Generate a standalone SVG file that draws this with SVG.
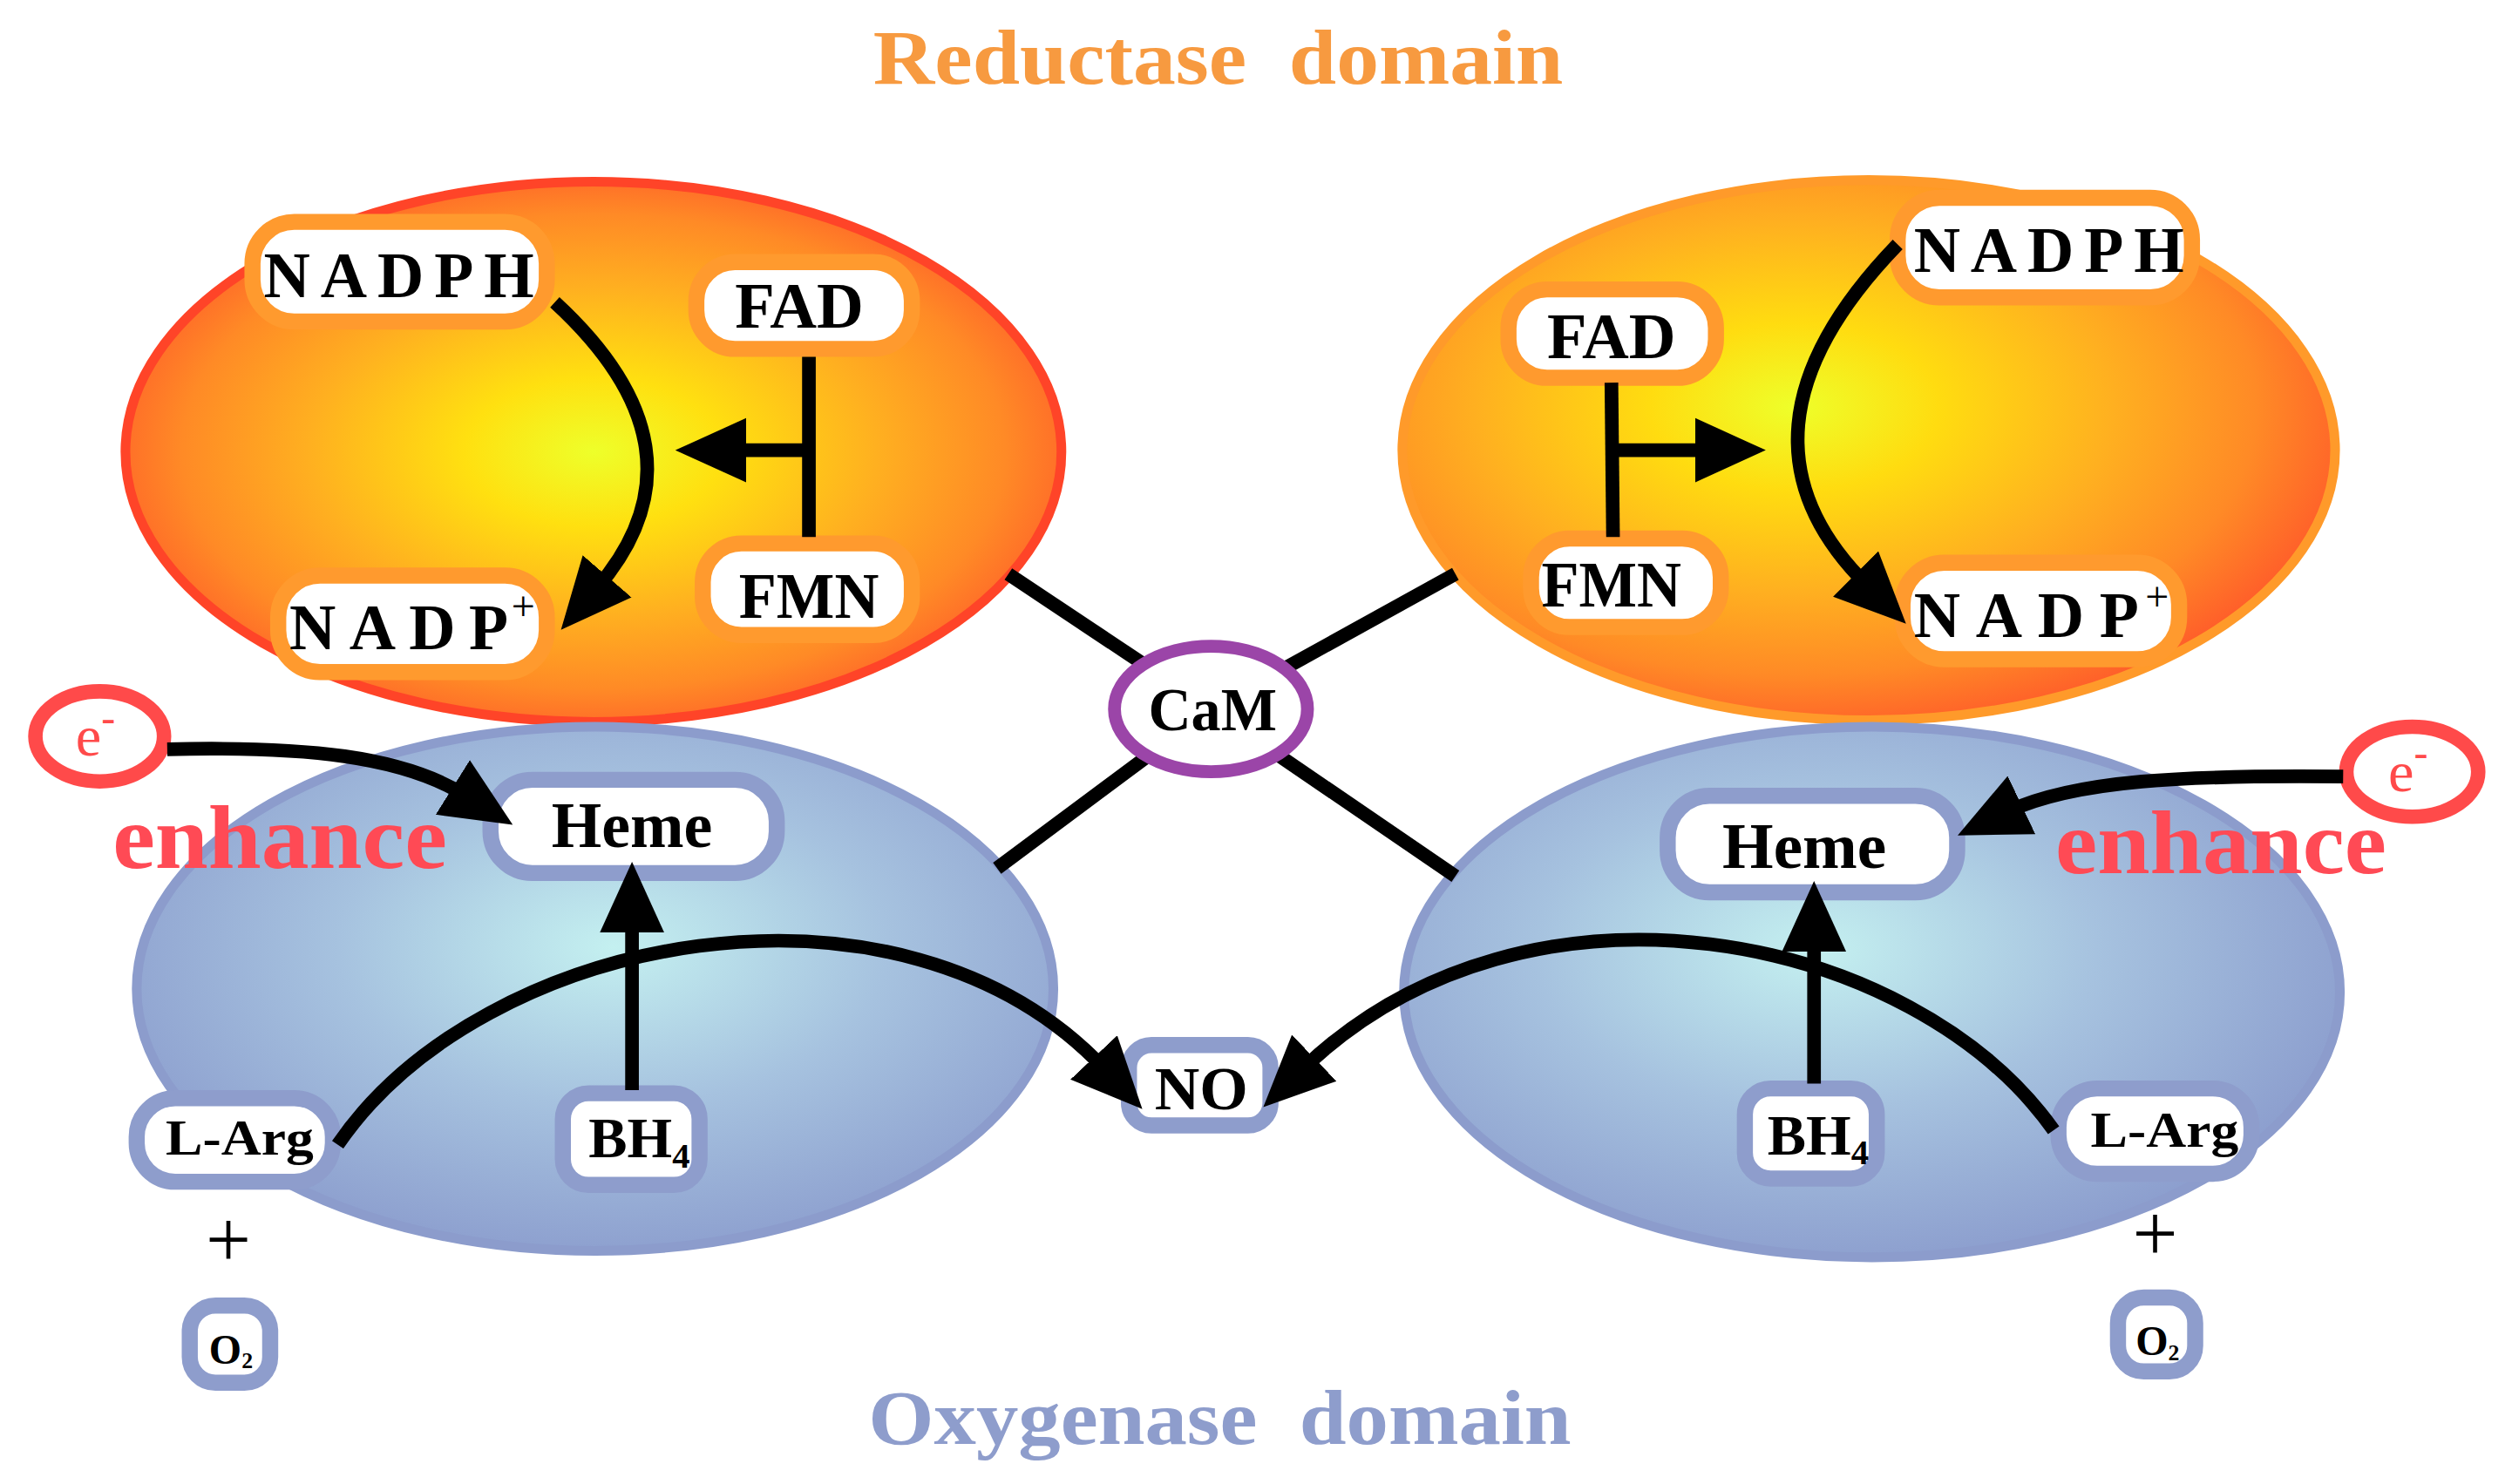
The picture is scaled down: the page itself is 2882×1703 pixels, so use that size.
<svg xmlns="http://www.w3.org/2000/svg" width="2882" height="1703" viewBox="0 0 2882 1703">
<defs>
<radialGradient id="gTL" cx="0.5" cy="0.5" r="0.55">
<stop offset="0" stop-color="#EEFF2A"/><stop offset="0.25" stop-color="#FFE010"/><stop offset="0.55" stop-color="#FFB020"/><stop offset="0.8" stop-color="#FF8A26"/><stop offset="1" stop-color="#FF5A2A"/>
</radialGradient>
<radialGradient id="gTR" cx="0.42" cy="0.42" r="0.62">
<stop offset="0" stop-color="#EEFF2A"/><stop offset="0.25" stop-color="#FFDC10"/><stop offset="0.55" stop-color="#FFB020"/><stop offset="0.8" stop-color="#FF8A26"/><stop offset="1" stop-color="#FF5A2A"/>
</radialGradient>
<radialGradient id="gBL" cx="0.52" cy="0.42" r="0.6">
<stop offset="0" stop-color="#C4F0F0"/><stop offset="0.5" stop-color="#A6C2DF"/><stop offset="1" stop-color="#8C9ECE"/>
</radialGradient>
<radialGradient id="gBR" cx="0.44" cy="0.42" r="0.6">
<stop offset="0" stop-color="#C4F0F0"/><stop offset="0.5" stop-color="#A6C2DF"/><stop offset="1" stop-color="#8C9ECE"/>
</radialGradient>
<marker id="ah" markerUnits="userSpaceOnUse" markerWidth="44" markerHeight="44" viewBox="0 0 44 44" refX="10" refY="22" orient="auto">
<path d="M0,2 L44,22 L0,42 z" fill="#000"/>
</marker>
<style>
.t{font-family:"Liberation Serif","Times New Roman",serif;font-weight:bold;fill:#000}
.ob{fill:#fff;stroke:#FF9A2E;stroke-width:10}
.bb{fill:#fff;stroke:#8E9DCC;stroke-width:10}
.ln{fill:none;stroke:#000;stroke-width:8.5}
.arr{fill:none;stroke:#000;stroke-width:8.5;marker-end:url(#ah)}
.enh{font-family:"Liberation Serif","Times New Roman",serif;font-weight:bold;fill:#FF4A55;font-size:56px}
.ec{fill:#fff;stroke:#FF4A4A;stroke-width:9}
.et{font-family:"Liberation Serif","Times New Roman",serif;fill:#FF4A4A;font-size:36px}
.plus{font-family:"Liberation Serif","Times New Roman",serif;fill:#000;font-size:50px}
</style>
</defs>
<rect width="2882" height="1703" fill="#fff"/>
<g transform="scale(1.84507)">
<text x="543" y="52" xml:space="preserve" textLength="429" lengthAdjust="spacingAndGlyphs" style="font-family:'Liberation Serif',serif;font-weight:bold;font-size:48px;fill:#F79A40">Reductase  domain</text>
<text x="540" y="898" xml:space="preserve" textLength="437" lengthAdjust="spacingAndGlyphs" style="font-family:'Liberation Serif',serif;font-weight:bold;font-size:48px;fill:#8E9DCC">Oxygenase  domain</text>

<g id="reductase-left"><ellipse cx="369" cy="281" rx="291" ry="168" fill="url(#gTL)" stroke="#FF4428" stroke-width="6"/></g>
<g id="reductase-right"><ellipse cx="1162" cy="280" rx="290" ry="168" fill="url(#gTR)" stroke="#FF9A2A" stroke-width="6"/></g>
<g id="oxygenase-left"><ellipse cx="370" cy="615" rx="285" ry="163" fill="url(#gBL)" stroke="#8C9CCC" stroke-width="6"/></g>
<g id="oxygenase-right"><ellipse cx="1164" cy="617" rx="291" ry="165" fill="url(#gBR)" stroke="#8C9CCC" stroke-width="6"/></g>

<g id="enhance-left"><text class="enh" x="70" y="540" textLength="208" lengthAdjust="spacingAndGlyphs">enhance</text></g>
<g id="enhance-right"><text class="enh" x="1278" y="543" textLength="206" lengthAdjust="spacingAndGlyphs">enhance</text></g>

<g id="nadph-l"><rect class="ob" x="157" y="138" width="183" height="62" rx="26"/><text class="t" x="164" y="185" font-size="40" textLength="168" lengthAdjust="spacing">NADPH</text></g>
<g id="fad-l"><rect class="ob" x="433" y="163" width="134" height="54" rx="24"/><text class="t" x="497" y="204" font-size="40" text-anchor="middle" textLength="80" lengthAdjust="spacingAndGlyphs">FAD</text></g>
<g id="fmn-l"><rect class="ob" x="437" y="338" width="130" height="57" rx="24"/><text class="t" x="503" y="384" font-size="40" text-anchor="middle" textLength="87" lengthAdjust="spacingAndGlyphs">FMN</text></g>
<g id="nadp-l"><rect class="ob" x="173" y="358" width="167" height="60" rx="26"/><text class="t" x="180" y="404" font-size="40"><tspan textLength="136" lengthAdjust="spacing">NADP</tspan><tspan x="318" y="386" font-size="26" font-weight="normal">+</tspan></text></g>

<g id="fad-r"><rect class="ob" x="938" y="180" width="129" height="55" rx="24"/><text class="t" x="1002" y="223" font-size="40" text-anchor="middle" textLength="80" lengthAdjust="spacingAndGlyphs">FAD</text></g>
<g id="fmn-r"><rect class="ob" x="952" y="335" width="118" height="55" rx="24"/><text class="t" x="1002" y="377" font-size="40" text-anchor="middle" textLength="87" lengthAdjust="spacingAndGlyphs">FMN</text></g>
<g id="nadph-r"><rect class="ob" x="1180" y="123" width="183" height="62" rx="26"/><text class="t" x="1190" y="169" font-size="40" textLength="168" lengthAdjust="spacing">NADPH</text></g>
<g id="nadp-r"><rect class="ob" x="1183" y="350" width="172" height="60" rx="26"/><text class="t" x="1190" y="396" font-size="40"><tspan textLength="140" lengthAdjust="spacing">NADP</tspan><tspan x="1334" y="380" font-size="26" font-weight="normal">+</tspan></text></g>

<g id="heme-l"><rect class="bb" x="305" y="485" width="178" height="58" rx="26"/><text class="t" x="393" y="527" font-size="40" text-anchor="middle" textLength="100" lengthAdjust="spacingAndGlyphs">Heme</text></g>
<g id="bh4-l"><rect class="bb" x="350" y="680" width="85" height="57" rx="16"/><text class="t" x="366" y="720" font-size="36">BH<tspan font-size="22" dy="6">4</tspan></text></g>
<g id="larg-l"><rect class="bb" x="85" y="683" width="122" height="52" rx="24"/><text class="t" x="103" y="718" font-size="31" textLength="92" lengthAdjust="spacingAndGlyphs">L-Arg</text></g>
<g id="no"><rect class="bb" x="702" y="650" width="88" height="50" rx="14"/><text class="t" x="747" y="690" font-size="38" text-anchor="middle" textLength="58" lengthAdjust="spacingAndGlyphs">NO</text></g>
<g id="o2-l"><text class="plus" x="142" y="788" text-anchor="middle">+</text><rect class="bb" x="118" y="812" width="50" height="48" rx="16"/><text class="t" x="130" y="848" font-size="26">O<tspan font-size="14" dy="3">2</tspan></text></g>

<g id="heme-r"><rect class="bb" x="1037" y="495" width="180" height="60" rx="26"/><text class="t" x="1122" y="540" font-size="40" text-anchor="middle" textLength="102" lengthAdjust="spacingAndGlyphs">Heme</text></g>
<g id="bh4-r"><rect class="bb" x="1085" y="677" width="82" height="56" rx="16"/><text class="t" x="1099" y="718" font-size="36">BH<tspan font-size="22" dy="6">4</tspan></text></g>
<g id="larg-r"><rect class="bb" x="1280" y="677" width="120" height="53" rx="24"/><text class="t" x="1300" y="713" font-size="31" textLength="92" lengthAdjust="spacingAndGlyphs">L-Arg</text></g>
<g id="o2-r"><text class="plus" x="1340" y="784" text-anchor="middle">+</text><rect class="bb" x="1317" y="807" width="48" height="46" rx="16"/><text class="t" x="1328" y="843" font-size="26">O<tspan font-size="14" dy="3">2</tspan></text></g>

<g id="e-left"><ellipse class="ec" cx="62" cy="458" rx="40" ry="28"/><text class="et" x="47" y="470">e<tspan font-size="26" dy="-15">-</tspan></text></g>
<g id="e-right"><ellipse class="ec" cx="1500" cy="480" rx="41" ry="28"/><text class="et" x="1485" y="492">e<tspan font-size="26" dy="-15">-</tspan></text></g>

<g id="connectors">
<line class="ln" x1="627" y1="357" x2="753" y2="441"/>
<line class="ln" x1="905" y1="357" x2="753" y2="441"/>
<line class="ln" x1="620" y1="540" x2="753" y2="441"/>
<line class="ln" x1="905" y1="545" x2="753" y2="441"/>
<path class="arr" d="M345 188 Q445 280 371 366"/>
<path class="ln" d="M503 222 L503 334"/>
<path class="arr" d="M503 280 L454 280"/>
<path class="arr" d="M1180 152 Q1066 270 1161 364"/>
<path class="ln" d="M1002 238 L1003 334"/>
<path class="arr" d="M1003 280 L1064 280"/>
<path class="arr" d="M104 466 C190 464 250 470 290 495"/>
<path class="arr" d="M393 678 L393 570"/>
<path class="arr" d="M210 712 C300 580 560 530 687 665"/>
<path class="arr" d="M1457 483 C1360 482 1290 485 1248 505"/>
<path class="arr" d="M1128 674 L1128 582"/>
<path class="arr" d="M1277 703 C1190 580 950 530 810 665"/>
</g>

<g id="cam"><ellipse cx="753" cy="441" rx="60" ry="39" fill="#fff" stroke="#9B45A8" stroke-width="8"/><text class="t" x="754" y="454" font-size="38" text-anchor="middle" textLength="80" lengthAdjust="spacingAndGlyphs">CaM</text></g>
</g>
</svg>
